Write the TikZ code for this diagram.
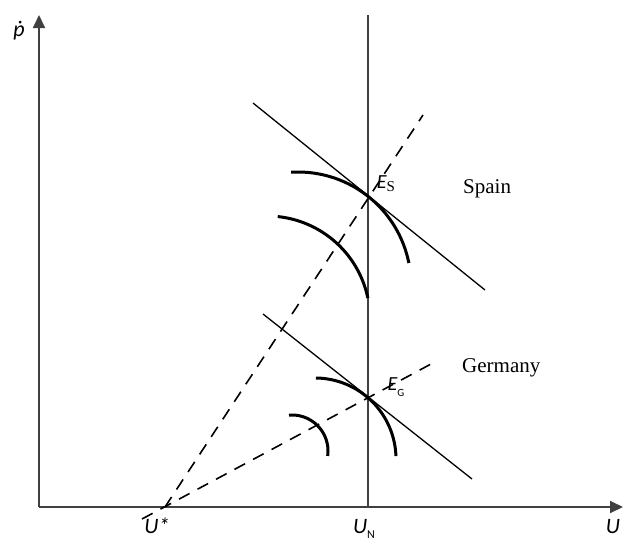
\documentclass[tikz,border=0pt]{standalone}
\usepackage{fontspec}
\setmainfont{Liberation Serif}
\newfontfamily\lblfont{Carlito}
\usetikzlibrary{arrows.meta}
\begin{document}
\begin{tikzpicture}[x=1pt,y=-1pt,
  axisline/.style={draw=black!75, line width=1.8pt},
  budget/.style={draw=black, line width=1.3pt},
  curvestyle/.style={draw=black, line width=3pt},
  dashline/.style={draw=black, line width=1.6pt, dash pattern=on 12pt off 9pt},
  lbl/.style={font=\lblfont\itshape\fontsize{22}{24}\selectfont, inner sep=0pt},
  elbl/.style={font=\lblfont\itshape\fontsize{20}{22}\selectfont, inner sep=0pt},
  country/.style={font=\fontsize{21}{24}\selectfont, inner sep=0pt, anchor=base west}]
\useasboundingbox (0,0) rectangle (624,541);
% key points
\coordinate (O) at (39,507);
\coordinate (ytip) at (39,15);
\coordinate (xtip) at (623,507);
\coordinate (Us) at (165,507);
\coordinate (UNb) at (368,507);
\coordinate (UNt) at (368,15);
\coordinate (ES) at (368,196);
\coordinate (EG) at (368,397);
\coordinate (Sa) at (253,103);
\coordinate (Sb) at (485,290);
\coordinate (Ga) at (263,314);
\coordinate (Gb) at (472,479);
\coordinate (Sd) at (423,115);
\coordinate (Gd0) at (142,519);
\coordinate (Gd) at (431,364);
% axes
\draw[axisline, -{Triangle[length=13pt,width=12pt]}] (O) -- (ytip);
\draw[axisline, -{Triangle[length=13pt,width=12pt]}] (O) -- (xtip);
% natural rate line
\draw[axisline] (UNb) -- (UNt);
% dashed rays
\draw[dashline] (Us) -- (Sd);
\draw[dashline] (Gd0) -- (Gd);
% solid lines
\draw[budget] (Sa) -- (Sb);
\draw[budget] (Ga) -- (Gb);
% indifference arcs
\draw[curvestyle] plot[domain=-93.5:-11.2, samples=50, smooth] ({298+113*cos(\x)},{285+113*sin(\x)});
\draw[curvestyle] plot[domain=-84:-11.7, samples=50, smooth] ({267+103*cos(\x)},{319+103*sin(\x)});
\draw[curvestyle] plot[domain=-89.3:-2.1, samples=50, smooth] ({315+81*cos(\x)},{459+81*sin(\x)});
\draw[curvestyle] plot[domain=-94.8:7.9, samples=40, smooth] ({292+36*cos(\x)},{451+36*sin(\x)});
% labels
\node[lbl] (pdot) at (19,31) {ṗ};
\node[lbl] (Ulab) at (613,527) {U};
\node[lbl] (Ustarlab) at (157,526) {U*};
\node[lbl] (UNlab) at (364,529) {U\raisebox{-0.4ex}{\upshape\fontsize{12}{12}\selectfont N}};
\node[elbl] (ESlab) at (386,184) {E\raisebox{-0.3ex}{\rmfamily\upshape\fontsize{15}{15}\selectfont S}};
\node[elbl] (EGlab) at (396,387) {E\raisebox{-0.7ex}{\upshape\fontsize{11}{11}\selectfont G}};
\node[country] (spain) at (463,193) {Spain};
\node[country] (germany) at (462,372) {Germany};
\end{tikzpicture}
\end{document}
